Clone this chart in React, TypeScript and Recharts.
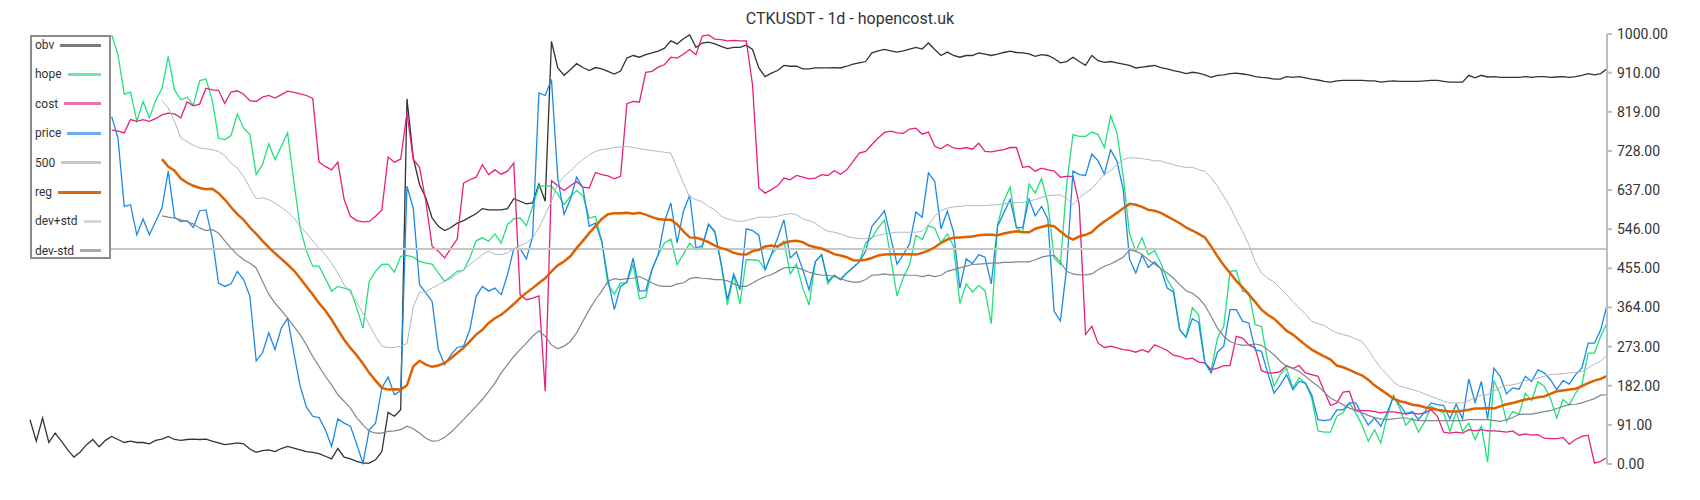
import { LineChart, Line, XAxis, YAxis, ReferenceLine } from "recharts";

if (typeof document !== "undefined") document.body.style.margin = "0";

const TITLE = "CTKUSDT - 1d - hopencost.uk";
const Y_TICKS = [0, 91, 182, 273, 364, 455, 546, 637, 728, 819, 910, 1000];
const LEVEL = 500;

const OBV = [
  103, 53, 107, 50, 72, 53, 33, 16, 28, 45,
  57, 40, 55, 64, 57, 50, 53, 50, 50, 47,
  55, 58, 64, 57, 55, 57, 58, 57, 58, 53,
  49, 45, 47, 49, 47, 35, 27, 31, 33, 29,
  36, 41, 37, 33, 29, 27, 24, 18, 12, 36,
  16, 12, 6, 2, 2, 10, 29, 120, 111, 126,
  849, 712, 650, 619, 572, 553, 543, 550, 560, 566,
  574, 582, 594, 591, 591, 591, 594, 617, 611, 605,
  607, 651, 611, 983, 921, 904, 917, 931, 922, 915,
  922, 919, 913, 907, 914, 944, 950, 946, 952, 956,
  960, 967, 984, 977, 989, 998, 969, 979, 981, 977,
  971, 966, 969, 969, 974, 964, 921, 901, 909, 915,
  927, 925, 925, 919, 919, 921, 921, 921, 922, 921,
  925, 930, 933, 936, 956, 961, 964, 961, 958, 961,
  965, 969, 965, 979, 964, 950, 958, 950, 946, 950,
  950, 956, 953, 950, 953, 957, 960, 957, 956, 954,
  948, 952, 950, 943, 933, 936, 946, 936, 927, 950,
  938, 934, 936, 933, 930, 927, 921, 923, 925, 927,
  922, 919, 915, 912, 908, 911, 909, 905, 899, 904,
  905, 908, 909, 907, 905, 901, 899, 898, 895, 895,
  901, 899, 901, 898, 895, 893, 890, 888, 891, 892,
  892, 892, 892, 891, 891, 888, 890, 891, 890, 890,
  890, 890, 891, 892, 892, 890, 888, 888, 888, 904,
  898, 904, 900, 901, 899, 899, 899, 899, 901, 899,
  901, 901, 899, 900, 901, 899, 901, 904, 908, 905,
  908, 919,
];

// first 13 points sit behind the legend box
const HOPE = [
  null, null, null, null, null, null, null, null, null, null,
  null, null, null, 998, 952, 860, 865, 797, 843, 805,
  845, 873, 948, 870, 847, 853, 834, 891, 896, 847,
  758, 754, 764, 814, 781, 766, 673, 696, 745, 708,
  739, 770, 657, 549, 495, 460, 460, 432, 402, 413,
  409, 405, 363, 316, 425, 448, 464, 465, 446, 483,
  485, 481, 471, 467, 465, 444, 425, 436, 448, 450,
  479, 519, 526, 518, 535, 514, 557, 570, 572, 554,
  599, 646, 646, 646, 628, 603, 622, 636, 624, 572,
  576, 518, 417, 395, 421, 422, 464, 384, 388, 452,
  487, 514, 523, 464, 488, 514, 498, 504, 557, 539,
  464, 370, 439, 372, 475, 475, 473, 452, 487, 504,
  519, 442, 465, 409, 370, 470, 487, 419, 439, 429,
  444, 457, 470, 514, 526, 549, 568, 479, 391, 434,
  464, 532, 522, 554, 549, 514, 535, 506, 373, 419,
  400, 415, 403, 326, 557, 611, 644, 549, 539, 651,
  630, 664, 607, 479, 464, 650, 766, 762, 762, 772,
  766, 736, 810, 770, 669, 535, 495, 526, 487, 496,
  467, 429, 405, 312, 295, 363, 347, 235, 219, 293,
  320, 448, 450, 402, 398, 324, 320, 239, 181, 208,
  223, 177, 200, 188, 153, 77, 74, 74, 111, 119,
  142, 119, 91, 53, 80, 49, 111, 160, 130, 90,
  107, 74, 99, 134, 126, 119, 76, 122, 76, 95,
  57, 88, 4, 194, 161, 99, 122, 116, 165, 147,
  191, 181, 153, 107, 150, 138, 165, 184, 258, 258,
  297, 328,
];

const COST = [
  null, null, null, null, null, null, null, null, null, null,
  null, null, null, 777, 774, 770, 801, 797, 801, 797,
  803, 812, 816, 814, 805, 842, 833, 837, 874, 870,
  869, 839, 865, 868, 860, 845, 843, 853, 857, 851,
  859, 867, 864, 861, 857, 850, 702, 692, 684, 702,
  615, 576, 566, 563, 564, 576, 591, 714, 702, 709,
  816, 709, 690, 611, 506, 495, 479, 502, 523, 653,
  661, 667, 696, 673, 684, 674, 681, 700, 394, 382,
  386, 391, 169, 659, 647, 636, 647, 657, 644, 642,
  678, 673, 670, 663, 669, 838, 843, 842, 911, 913,
  923, 929, 946, 944, 953, 964, 952, 995, 998, 988,
  987, 984, 985, 984, 984, 882, 642, 630, 638, 647,
  665, 661, 671, 667, 663, 665, 673, 671, 682, 674,
  684, 704, 723, 727, 743, 758, 771, 774, 770, 769,
  779, 781, 767, 772, 739, 733, 743, 735, 733, 736,
  732, 746, 727, 726, 729, 731, 736, 736, 690, 692,
  681, 688, 684, 682, 667, 669, 669, 603, 301, 320,
  281, 271, 274, 270, 266, 264, 260, 266, 260, 277,
  271, 264, 253, 250, 244, 246, 237, 235, 219, 223,
  229, 229, 297, 293, 277, 270, 217, 212, 212, 215,
  229, 222, 229, 212, 208, 204, 169, 136, 142, 167,
  169, 126, 124, 124, 122, 119, 121, 121, 119, 116,
  119, 116, 119, 126, 111, 74, 72, 74, 72, 80,
  77, 80, 77, 77, 76, 74, 77, 67, 70, 67,
  68, 60, 59, 59, 62, 46, 57, 64, 67, 2,
  6, 15,
];

const PRICE = [
  null, null, null, null, null, null, null, null, null, null,
  null, null, null, 808, 758, 599, 603, 533, 570, 533,
  564, 595, 681, 574, 564, 566, 550, 589, 591, 526,
  421, 413, 419, 448, 429, 390, 240, 258, 305, 266,
  316, 339, 258, 181, 132, 111, 108, 80, 41, 105,
  95, 88, 46, 2, 80, 95, 177, 202, 161, 170,
  646, 595, 417, 398, 378, 266, 231, 254, 271, 274,
  312, 390, 413, 402, 409, 394, 440, 501, 501, 477,
  529, 863, 857, 894, 665, 581, 615, 667, 642, 553,
  560, 518, 429, 359, 413, 423, 479, 402, 403, 453,
  487, 564, 607, 514, 588, 625, 502, 508, 558, 541,
  467, 382, 442, 405, 547, 543, 532, 452, 487, 526,
  568, 479, 493, 452, 405, 471, 487, 425, 439, 429,
  444, 457, 470, 495, 553, 570, 589, 526, 465, 487,
  512, 586, 574, 677, 657, 547, 588, 539, 409, 477,
  466, 487, 481, 419, 553, 584, 615, 550, 549, 616,
  577, 599, 570, 355, 333, 456, 681, 673, 671, 721,
  705, 674, 731, 704, 638, 477, 444, 486, 457, 470,
  454, 409, 400, 312, 295, 338, 329, 235, 212, 260,
  274, 359, 359, 332, 328, 266, 262, 212, 165, 184,
  208, 173, 192, 188, 161, 103, 101, 103, 126, 126,
  142, 142, 115, 91, 107, 88, 119, 155, 138, 117,
  122, 103, 122, 142, 138, 136, 105, 139, 105, 198,
  143, 192, 105, 223, 204, 163, 177, 174, 204, 192,
  219, 212, 196, 173, 194, 186, 208, 223, 281, 281,
  312, 370,
];

const REG = [
  null, null, null, null, null, null, null, null, null, null,
  null, null, null, null, null, null, null, null, null, null,
  null, 709, 692, 682, 664, 654, 647, 642, 639, 640,
  630, 615, 597, 581, 568, 550, 535, 519, 504, 490,
  477, 464, 450, 432, 413, 394, 374, 357, 336, 312,
  289, 270, 253, 233, 212, 194, 177, 173, 174, 173,
  183, 227, 240, 231, 226, 229, 235, 246, 258, 270,
  285, 301, 312, 328, 339, 347, 359, 372, 386, 398,
  409, 421, 432, 448, 462, 471, 483, 502, 519, 537,
  553, 570, 581, 583, 583, 584, 582, 584, 580, 574,
  570, 568, 568, 557, 541, 527, 526, 522, 516, 508,
  502, 498, 491, 488, 487, 495, 498, 506, 508, 506,
  514, 518, 519, 516, 508, 504, 501, 495, 488, 485,
  481, 474, 473, 475, 479, 485, 487, 488, 488, 488,
  488, 487, 491, 496, 504, 514, 522, 526, 527, 528,
  529, 532, 533, 533, 532, 536, 539, 541, 539, 539,
  547, 551, 555, 553, 541, 529, 522, 529, 533, 539,
  553, 564, 574, 584, 595, 605, 603, 598, 591, 589,
  584, 576, 568, 560, 550, 543, 535, 527, 506, 483,
  462, 444, 426, 411, 394, 377, 359, 347, 338, 324,
  310, 301, 289, 277, 266, 258, 250, 243, 229, 225,
  219, 212, 206, 196, 183, 173, 163, 152, 146, 143,
  138, 136, 132, 129, 126, 124, 122, 122, 124, 126,
  129, 129, 130, 129, 134, 139, 142, 146, 150, 152,
  155, 157, 163, 169, 171, 173, 175, 181, 188, 194,
  198, 205,
];

const DEV_UP = [
  null, null, null, null, null, null, null, null, null, null,
  null, null, null, null, null, null, null, null, null, null,
  null, 845, 828, 797, 758, 750, 741, 735, 733, 731,
  727, 717, 700, 688, 669, 642, 617, 619, 615, 607,
  597, 586, 572, 553, 537, 519, 502, 487, 467, 444,
  417, 398, 377, 350, 324, 297, 274, 271, 271, 274,
  280, 365, 400, 400, 409, 417, 425, 432, 442, 452,
  464, 475, 487, 495, 488, 487, 491, 501, 508, 514,
  526, 549, 580, 611, 651, 669, 681, 696, 708, 719,
  727, 731, 733, 736, 737, 739, 736, 733, 731, 729,
  727, 725, 723, 688, 653, 620, 615, 609, 599, 591,
  576, 570, 566, 564, 566, 570, 574, 574, 574, 576,
  580, 582, 580, 570, 566, 560, 549, 541, 539, 535,
  529, 526, 524, 524, 527, 532, 535, 537, 539, 539,
  539, 539, 541, 557, 576, 589, 595, 598, 599, 601,
  601, 601, 601, 602, 603, 605, 607, 608, 608, 611,
  615, 620, 624, 625, 626, 617, 603, 619, 630, 640,
  657, 673, 682, 696, 708, 712, 712, 710, 708, 705,
  705, 700, 696, 692, 690, 690, 684, 681, 665, 646,
  622, 599, 568, 541, 510, 471, 444, 432, 423, 409,
  394, 378, 363, 349, 332, 326, 322, 312, 305, 301,
  297, 291, 285, 266, 243, 223, 208, 191, 181, 177,
  173, 169, 163, 157, 152, 146, 142, 142, 142, 147,
  155, 160, 161, 170, 178, 183, 184, 188, 194, 196,
  200, 204, 208, 209, 210, 212, 213, 215, 223, 232,
  239, 253,
];

const DEV_DOWN = [
  null, null, null, null, null, null, null, null, null, null,
  null, null, null, null, null, null, null, null, null, null,
  null, 577, 574, 572, 568, 564, 558, 549, 543, 545,
  537, 519, 502, 487, 475, 467, 456, 425, 395, 374,
  357, 339, 320, 301, 277, 250, 227, 204, 184, 161,
  146, 130, 108, 91, 76, 72, 72, 76, 77, 80,
  88, 82, 72, 60, 53, 54, 62, 74, 88, 103,
  119, 134, 150, 169, 188, 212, 231, 250, 266, 281,
  297, 310, 297, 277, 268, 274, 285, 305, 332, 359,
  382, 402, 425, 431, 429, 431, 432, 436, 429, 421,
  415, 413, 413, 419, 421, 431, 434, 432, 431, 429,
  429, 426, 419, 413, 413, 421, 429, 436, 440, 448,
  456, 457, 457, 452, 446, 442, 439, 439, 436, 431,
  426, 423, 423, 429, 439, 440, 442, 440, 440, 440,
  439, 439, 436, 439, 436, 439, 448, 452, 456, 460,
  464, 465, 466, 467, 467, 469, 469, 470, 470, 470,
  475, 481, 484, 485, 470, 448, 442, 440, 440, 442,
  452, 460, 465, 473, 481, 498, 495, 487, 475, 465,
  454, 444, 432, 417, 403, 397, 386, 369, 343, 316,
  297, 285, 279, 276, 277, 279, 276, 266, 254, 239,
  227, 223, 215, 204, 192, 181, 167, 153, 146, 138,
  130, 124, 119, 113, 108, 105, 103, 105, 107, 107,
  103, 101, 101, 101, 101, 101, 101, 101, 101, 103,
  103, 103, 103, 101, 99, 103, 108, 115, 116, 116,
  119, 122, 124, 129, 134, 138, 139, 142, 147, 152,
  160, 161,
];

const data = OBV.map((obv, i) => ({
  day: i,
  obv,
  hope: HOPE[i],
  cost: COST[i],
  price: PRICE[i],
  reg: REG[i],
  devUp: DEV_UP[i],
  devDown: DEV_DOWN[i],
}));

const LEGEND = [
  { label: "obv", swatch: "#7a7a7a" },
  { label: "hope", swatch: "#72e6a4" },
  { label: "cost", swatch: "#ee72b0" },
  { label: "price", swatch: "#6aaef0" },
  { label: "500", swatch: "#c8c8c8" },
  { label: "reg", swatch: "#d86a12" },
  { label: "dev+std", swatch: "#d4d9dc" },
  { label: "dev-std", swatch: "#a2acb2" },
];

function LegendBox() {
  return (
    <div
      style={{
        position: "absolute",
        left: 30,
        top: 35,
        width: 81,
        height: 224,
        boxSizing: "border-box",
        border: "2px solid #8c8c8c",
        background: "#fff",
      }}
    >
      {LEGEND.map((item, k) => (
        <div
          key={item.label}
          style={{
            position: "absolute",
            left: 3,
            right: 8,
            top: -1 + k * 29.4,
            height: 18,
            display: "flex",
            alignItems: "center",
            gap: 6,
          }}
        >
          <span style={{ fontSize: 12, color: "#333", whiteSpace: "nowrap" }}>
            {item.label}
          </span>
          <span style={{ flex: 1, height: 3, background: item.swatch }} />
        </div>
      ))}
    </div>
  );
}

export default function App() {
  return (
    <div
      style={{
        position: "relative",
        width: 1700,
        height: 500,
        background: "#fff",
        fontFamily: "Roboto, sans-serif",
      }}
    >
      <div
        style={{
          position: "absolute",
          left: 0,
          right: 0,
          top: 9,
          textAlign: "center",
          fontSize: 16,
          color: "#333",
        }}
      >
        {TITLE}
      </div>

      <LineChart
        width={1700}
        height={500}
        data={data}
        margin={{ top: 34, right: 13, bottom: 36, left: 30 }}
      >
        <XAxis dataKey="day" hide />
        <YAxis
          orientation="right"
          width={80}
          domain={[0, 1000]}
          ticks={Y_TICKS}
          interval={0}
          tickFormatter={(v: number) => v.toFixed(2)}
          axisLine={{ stroke: "#b4c0c7", strokeWidth: 2 }}
          tickLine={{ stroke: "#b4c0c7", strokeWidth: 2 }}
          tickSize={5}
          tickMargin={5}
          tick={{ fill: "#333", fontSize: 14, fontFamily: "Roboto" }}
        />
        <Line dataKey="obv" stroke="#333333" strokeWidth={1.3} dot={false} isAnimationActive={false} />
        <Line dataKey="hope" stroke="#22e07c" strokeWidth={1.3} dot={false} isAnimationActive={false} />
        <Line dataKey="cost" stroke="#e91e7d" strokeWidth={1.3} dot={false} isAnimationActive={false} />
        <Line dataKey="price" stroke="#1e88e5" strokeWidth={1.3} dot={false} isAnimationActive={false} />
        <ReferenceLine y={LEVEL} stroke="#c6c6c6" strokeWidth={2} />
        <Line dataKey="reg" stroke="#dd6100" strokeWidth={2.5} dot={false} isAnimationActive={false} />
        <Line dataKey="devUp" stroke="#b0b8bf" strokeWidth={1} dot={false} isAnimationActive={false} />
        <Line dataKey="devDown" stroke="#7b8893" strokeWidth={1.2} dot={false} isAnimationActive={false} />
      </LineChart>

      <LegendBox />
    </div>
  );
}
